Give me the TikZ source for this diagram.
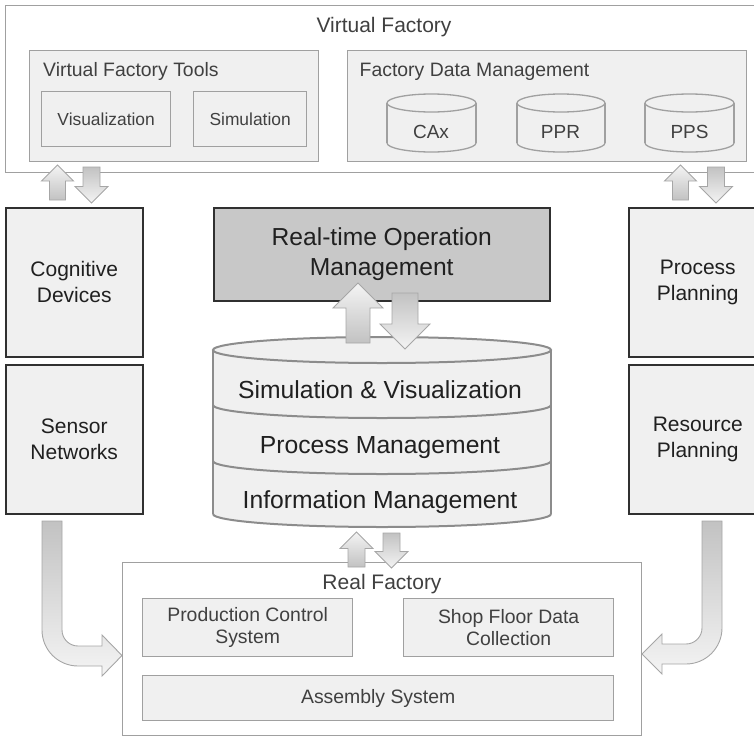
\documentclass[tikz,border=0pt]{standalone}
\usepackage{fontspec}
\setmainfont{Liberation Sans}
\usetikzlibrary{calc}

\definecolor{boxfill}{HTML}{F0F0F0}
\definecolor{lightline}{HTML}{A0A0A0}
\definecolor{darkline}{HTML}{303030}
\definecolor{txt}{HTML}{404040}
\definecolor{darktxt}{HTML}{202020}
\definecolor{rtomfill}{HTML}{C8C8C8}
\definecolor{stackline}{HTML}{8C8C8C}
\definecolor{arrdark}{HTML}{C2C2C2}
\definecolor{arrlight}{HTML}{F4F4F4}
\definecolor{arrline}{HTML}{A6A6A6}

\tikzset{
  frame/.style={rectangle, anchor=north west, inner sep=0pt, draw=lightline,
    line width=1.3pt, fill=boxfill, text=txt, align=center},
  outerframe/.style={frame, fill=white},
  sidebox/.style={frame, draw=darkline, line width=1.5pt, text=darktxt,
    font=\fontsize{21}{26}\selectfont},
  label/.style={inner sep=0pt, text=txt},
  arrowbody/.style={draw=arrline, line width=0.9pt, line join=miter},
  % block arrow pointing up, tip at the pic origin: {head half width}{shaft half width}{length}
  pics/uparr/.style n args={3}{code={
    \path[arrowbody, top color=arrlight, bottom color=arrdark]
      (0,0) -- (#1,#1) -- (#2,#1) -- (#2,#3) -- (-#2,#3) -- (-#2,#1) -- (-#1,#1) -- cycle;
  }},
  % block arrow pointing down, tip at the pic origin
  pics/downarr/.style n args={3}{code={
    \path[arrowbody, top color=arrdark, bottom color=arrlight]
      (0,0) -- (#1,-#1) -- (#2,-#1) -- (#2,-#3) -- (-#2,-#3) -- (-#2,-#1) -- (-#1,-#1) -- cycle;
  }},
  % front rim of an ellipse (lower half), centred at the pic origin: {rx}{ry}
  pics/rim/.style 2 args={code={
    \draw (-#1,0) .. controls (-#1,{0.552*#2}) and ({-0.552*#1},#2) .. (0,#2)
                  .. controls ({0.552*#1},#2) and (#1,{0.552*#2}) .. (#1,0);
  }},
  % database cylinder, top ellipse centred at the origin: {rx}{ry}{height}
  pics/dbcyl/.style n args={3}{code={
    \fill[boxfill] (-#1,0) rectangle (#1,#3);
    \fill[boxfill] (0,#3) ellipse [x radius=#1, y radius=#2];
    \fill[boxfill] (0,0) ellipse [x radius=#1, y radius=#2];
    \draw (0,0) ellipse [x radius=#1, y radius=#2];
    \draw (-#1,0) -- (-#1,#3) (#1,0) -- (#1,#3);
    \pic at (0,#3) {rim={#1}{#2}};
  }},
}

\begin{document}
\begin{tikzpicture}[x=1pt, y=-1pt]
\useasboundingbox (0,0) rectangle (754,736);
\clip (0,0) rectangle (754,736);

% ---------------- Virtual Factory ----------------
\node[outerframe, minimum width=760pt, minimum height=167pt] (vf) at (5,5) {};
\node[label, anchor=base, font=\fontsize{21}{25}\selectfont] (vftitle) at (384,32) {Virtual Factory};

\node[frame, minimum width=289pt, minimum height=111pt] (vft) at (29,50) {};
\node[label, anchor=base west, font=\fontsize{19.4}{23}\selectfont] (vfttitle) at (43,76) {Virtual Factory Tools};
\node[frame, minimum width=129pt, minimum height=55pt, font=\fontsize{17.4}{21}\selectfont] (vis) at (41,91) {Visualization};
\node[frame, minimum width=113pt, minimum height=55pt, font=\fontsize{17.4}{21}\selectfont] (sim) at (193,91) {Simulation};

\node[frame, minimum width=399pt, minimum height=111pt] (fdm) at (347,50) {};
\node[label, anchor=base west, font=\fontsize{19.4}{23}\selectfont] (fdmtitle) at (359.5,76) {Factory Data Management};

\begin{scope}[draw=lightline, line width=1.3pt]
  \pic at (431.5,103) {dbcyl={44.5}{9}{40}};
  \pic at (561,103) {dbcyl={44}{9}{40}};
  \pic at (689.5,103) {dbcyl={44.5}{9}{40}};
\end{scope}
\node[label, anchor=base, font=\fontsize{19}{23}\selectfont] (cax) at (431,138) {CAx};
\node[label, anchor=base, font=\fontsize{19}{23}\selectfont] (ppr) at (560.5,138) {PPR};
\node[label, anchor=base, font=\fontsize{19}{23}\selectfont] (pps) at (689.5,138) {PPS};

% ---------------- side columns ----------------
\node[sidebox, minimum width=137pt, minimum height=149pt] (cog) at (5,207) {Cognitive\\Devices};
\node[sidebox, minimum width=137pt, minimum height=149pt] (sen) at (5,364) {Sensor\\Networks};
\node[sidebox, minimum width=138pt, minimum height=149pt] (proc) at (628,207) {Process\\Planning};
\node[sidebox, minimum width=138pt, minimum height=149pt] (res) at (628,364) {Resource\\Planning};

% ---------------- real-time operation management ----------------
\node[sidebox, fill=rtomfill, minimum width=336pt, minimum height=93pt,
      font=\fontsize{24.6}{30}\selectfont] (rtom) at (213,207) {Real-time Operation\\Management};

% ---------------- layered data stack ----------------
\begin{scope}[draw=stackline, line width=2pt]
  \fill[boxfill] (213,350) rectangle (551,514);
  \fill[boxfill] (382,514) ellipse [x radius=169, y radius=13];
  \fill[boxfill] (382,350) ellipse [x radius=169, y radius=13];
  \draw (382,350) ellipse [x radius=169, y radius=13];
  \draw (213,350) -- (213,514) (551,350) -- (551,514);
  \pic at (382,405) {rim={169}{13}};
  \pic at (382,461) {rim={169}{13}};
  \pic at (382,514) {rim={169}{13}};
\end{scope}
\node[label, text=darktxt, anchor=base, font=\fontsize{24.7}{29}\selectfont] (simvis) at (380,398) {Simulation \& Visualization};
\node[label, text=darktxt, anchor=base, font=\fontsize{24.7}{29}\selectfont] (procman) at (380,453) {Process Management};
\node[label, text=darktxt, anchor=base, font=\fontsize{24.7}{29}\selectfont] (infoman) at (380,508) {Information Management};

% ---------------- Real Factory ----------------
\node[outerframe, minimum width=519pt, minimum height=173pt] (rf) at (122,562) {};
\node[label, anchor=base, font=\fontsize{21}{25}\selectfont] (rftitle) at (382,589) {Real Factory};
\node[frame, minimum width=210pt, minimum height=58pt, font=\fontsize{19.4}{22.5}\selectfont] (pcs) at (142,598) {Production Control\\System};
\node[frame, minimum width=210pt, minimum height=58pt, font=\fontsize{19.4}{22.5}\selectfont] (sfdc) at (403,598) {Shop Floor Data\\Collection};
\node[frame, minimum width=471pt, minimum height=45pt, font=\fontsize{19.4}{22.5}\selectfont] (asm) at (142,675) {Assembly System};

% ---------------- exchange arrows ----------------
\pic at (57.5,165) {uparr={16}{8}{35}};
\pic at (91.5,203) {downarr={16.5}{8.5}{36}};
\pic at (680.5,165) {uparr={16}{8}{35}};
\pic at (716,203) {downarr={16.5}{8.5}{36}};

\pic at (358,283) {uparr={25}{12}{60}};
\pic at (405,349) {downarr={25}{13}{56}};

\pic at (356.5,532) {uparr={16.5}{8.5}{35}};
\pic at (391.5,568) {downarr={16.5}{8.5}{35}};

% bent arrows from the side columns into the real factory
\path[arrowbody, top color=arrdark, bottom color=arrlight]
  (42,521) -- (62,521) -- (62,630)
  .. controls (62,638.8) and (69.2,646) .. (78,646)
  -- (102,646) -- (102,635) -- (122,655.5) -- (102,676) -- (102,666) -- (78,666)
  .. controls (58.1,666) and (42,649.9) .. (42,630) -- cycle;
\path[arrowbody, top color=arrdark, bottom color=arrlight]
  (702,521) -- (722,521) -- (722,628)
  .. controls (722,647.9) and (705.9,664) .. (686,664)
  -- (662,664) -- (662,674) -- (642,654) -- (662,634) -- (662,644) -- (686,644)
  .. controls (694.8,644) and (702,636.8) .. (702,628) -- cycle;
\end{tikzpicture}
\end{document}
